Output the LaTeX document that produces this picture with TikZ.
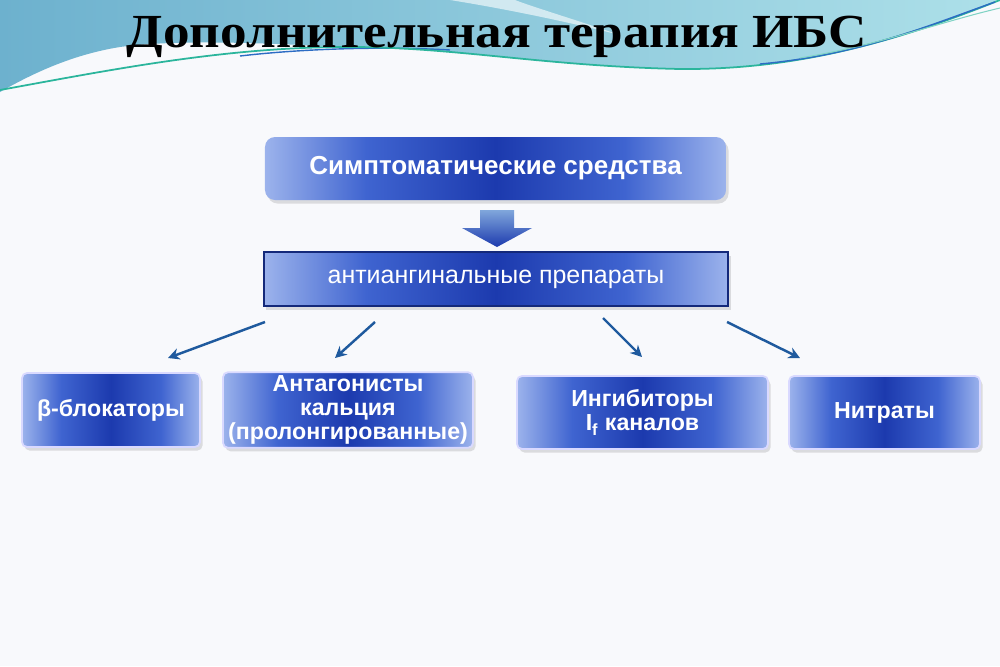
\documentclass[tikz,border=0pt]{standalone}
\usepackage{fontspec}
\setmainfont{Liberation Serif}
\newfontfamily\titlef[FakeStretch=1.12]{Liberation Serif}
\newfontfamily\sansf{Liberation Sans}
\usetikzlibrary{shadows,arrows.meta}
\definecolor{boxdark}{HTML}{1C3AAE}
\definecolor{boxmid}{HTML}{3F64D0}
\definecolor{boxlight}{HTML}{9CB3EC}
\definecolor{arrowblue}{HTML}{1F5A9E}
\definecolor{skyA}{HTML}{6DB1CE}
\definecolor{skyB}{HTML}{ADE0E9}
\definecolor{teal}{HTML}{2BB59C}
\definecolor{lineblue}{HTML}{2C6CC4}
\definecolor{bg}{HTML}{F8F9FC}
\pgfdeclarehorizontalshading{boxshade}{100bp}{color(0bp)=(boxlight); color(25bp)=(boxlight); color(36bp)=(boxmid); color(50bp)=(boxdark); color(64bp)=(boxmid); color(75bp)=(boxlight); color(100bp)=(boxlight)}
\begin{document}
\begin{tikzpicture}[x=0.2mm,y=-0.2mm,
  gbox/.style={rectangle, shading=boxshade, text=white,
    font=\sansf\bfseries\fontsize{13.2}{13.6}\selectfont, align=center, inner sep=2pt,
    drop shadow={shadow xshift=0.5mm, shadow yshift=-0.7mm, opacity=0.2, fill=black!60}},
  lowbox/.style={gbox, rounded corners=1mm, draw=white!85!blue, line width=1pt},
  conn/.style={draw=arrowblue, line width=1.4pt, -{Stealth[length=2.3mm,width=2.3mm]}}]
\useasboundingbox (0,0) rectangle (1000,666);
\fill[bg] (0,0) rectangle (1000,666);
% top swoosh
\shade[left color=skyA, right color=skyB]
  (0,0) -- (1000,0) .. controls (900,40) and (800,70) .. (680,69)
  .. controls (540,66) and (450,46) .. (340,47)
  .. controls (250,42) and (170,40) .. (120,47)
  .. controls (70,55) and (30,75) .. (0,92) -- cycle;
\fill[white, opacity=0.6] (450,0) .. controls (500,8) and (560,20) .. (620,35)
  .. controls (570,18) and (530,6) .. (515,0) -- cycle;
\draw[lineblue, line width=0.8pt] (240,56) .. controls (300,49) and (380,46) .. (450,50);
\draw[teal, line width=1pt] (0,90) .. controls (110,70) and (220,48) .. (340,47)
  .. controls (450,46) and (540,66) .. (680,69) .. controls (800,70) and (900,40) .. (1000,0);
\draw[lineblue, line width=0.8pt] (760,64) .. controls (860,55) and (930,25) .. (995,2);
\draw[teal!60!white, line width=0.6pt] (800,58) .. controls (880,45) and (940,22) .. (1000,8);
% title
\node[anchor=base, font=\titlef\bfseries\fontsize{27}{27}\selectfont, text=black] (title) at (497,47) {Дополнительная терапия ИБС};
% boxes
\node[gbox, rounded corners=2mm, font=\sansf\bfseries\fontsize{14.8}{16}\selectfont, minimum width=92.2mm, minimum height=12.6mm] (top) at (495.5,168.5) {Симптоматические средства};
\node[gbox, draw=boxdark!70!black, line width=0.8pt, font=\sansf\fontsize{14.2}{16}\selectfont, minimum width=92.8mm, minimum height=10.8mm] (mid) at (496,279) {антиангинальные препараты};
\node[lowbox, minimum width=35.6mm, minimum height=14.8mm] (b1) at (111,410) {β-блокаторы};
\node[lowbox, minimum width=50mm, minimum height=14.8mm] (b2) at (348,410) {Антагонисты\\кальция\\(пролонгированные)};
\node[lowbox, minimum width=50.2mm, minimum height=14.6mm] (b3) at (642.5,412.5) {Ингибиторы\\I\textsubscript{f} каналов};
\node[lowbox, minimum width=38.2mm, minimum height=14.6mm] (b4) at (884.5,412.5) {Нитраты};
% block arrow
\shade[top color=lineblue!60!white, bottom color=boxdark]
  (480,210) -- (514,210) -- (514,228) -- (532,228) -- (497,247) -- (462,228) -- (480,228) -- cycle;
% connectors
\coordinate (s1) at (265,322); \coordinate (e1) at (168,358);
\coordinate (s2) at (375,322); \coordinate (e2) at (335,358);
\coordinate (s3) at (603,318); \coordinate (e3) at (642,357);
\coordinate (s4) at (727,322); \coordinate (e4) at (800,358);
\draw[conn] (s1) -- (e1);
\draw[conn] (s2) -- (e2);
\draw[conn] (s3) -- (e3);
\draw[conn] (s4) -- (e4);
\end{tikzpicture}
\end{document}
